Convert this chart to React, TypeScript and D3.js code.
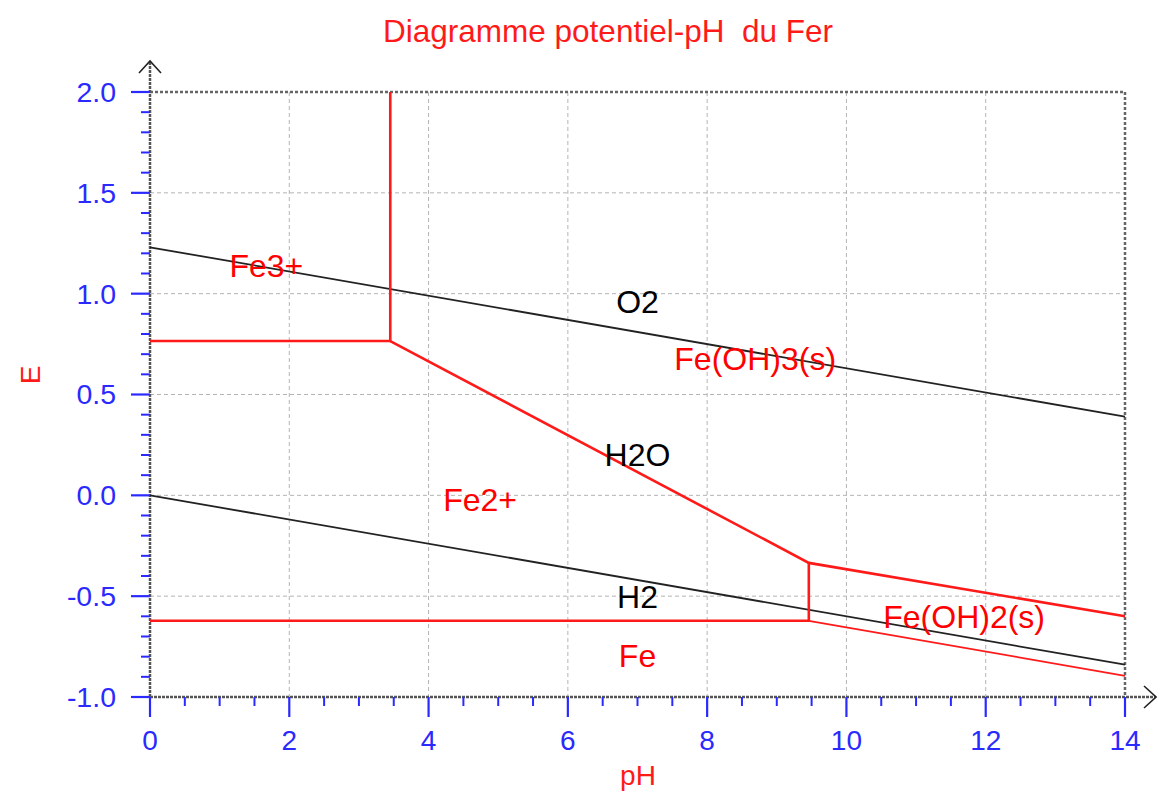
import React, { useEffect, useRef } from 'react'
import * as d3 from 'd3'

// boundary lines, [pH, E]
const o2Line = [[0, 1.23], [14, 0.39]]
const h2Line = [[0, 0], [14, -0.84]]
const fe3Fe2 = [[0, 0.765], [3.45, 0.765], [3.45, 2.0]]
const feOH3Fe2 = [[3.45, 0.765], [9.46, -0.335], [14, -0.6]]
const fe2Fe = [[0, -0.622], [9.46, -0.622], [9.46, -0.335]]
const feOH2Fe = [[9.46, -0.622], [14, -0.895]]

const labelNames = ['Fe3+', 'O2', 'Fe(OH)3(s)', 'H2O', 'Fe2+', 'H2', 'Fe', 'Fe(OH)2(s)']
const labelPH = [1.67, 7.0, 8.69, 7.0, 4.74, 7.0, 7.0, 11.69]
const labelE = [1.14, 0.96, 0.676, 0.2, -0.023, -0.504, -0.797, -0.603]
const labelColors = ['red', 'black', 'red', 'black', 'red', 'black', 'red', 'red']

const xTicks = [0, 2, 4, 6, 8, 10, 12, 14]
const yTicks = [-1.0, -0.5, 0.0, 0.5, 1.0, 1.5, 2.0]

const FONT = 'Arial, "Liberation Sans", sans-serif'

export default function App () {
  const ref = useRef(null)

  useEffect(() => {
    const svg = d3.select(ref.current)
    svg.selectAll('*').remove()

    const left = 150
    const right = 1125
    const top = 92
    const bottom = 697
    const x = d3.scaleLinear().domain([0, 14]).range([left, right])
    const y = d3.scaleLinear().domain([-1, 2]).range([bottom, top])

    // grid
    const grid = svg.append('g')
    grid.selectAll('.gx').data(xTicks.slice(1, -1)).enter().append('line')
      .attr('x1', d => x(d)).attr('x2', d => x(d))
      .attr('y1', top).attr('y2', bottom)
      .attr('stroke', '#b4b4b4').attr('stroke-dasharray', '4,3')
    grid.selectAll('.gy').data(yTicks.slice(1, -1)).enter().append('line')
      .attr('x1', left).attr('x2', right)
      .attr('y1', d => y(d)).attr('y2', d => y(d))
      .attr('stroke', '#b4b4b4').attr('stroke-dasharray', '4,3')

    // frame top / right
    svg.append('path')
      .attr('d', `M${left},${top}H${right}V${bottom}`)
      .attr('fill', 'none').attr('stroke', '#666').attr('stroke-width', 2.5)
      .attr('stroke-dasharray', '3,2')

    // axes lines with arrows
    svg.append('line').attr('x1', left).attr('x2', left).attr('y1', bottom).attr('y2', 62)
      .attr('stroke', '#555').attr('stroke-width', 2.5).attr('stroke-dasharray', '3,1')
    svg.append('line').attr('x1', left).attr('x2', 1155).attr('y1', bottom).attr('y2', bottom)
      .attr('stroke', '#555').attr('stroke-width', 2.5).attr('stroke-dasharray', '3,1')
    svg.append('path').attr('d', `M${left - 11},73L${left},61L${left + 11},73`)
      .attr('fill', 'none').attr('stroke', '#222').attr('stroke-width', 1.6)
    svg.append('path').attr('d', `M1144,686L1156,${bottom}L1144,708`)
      .attr('fill', 'none').attr('stroke', '#222').attr('stroke-width', 1.6)

    // ticks
    const blue = '#2a2aff'
    const minorX = d3.range(0, 14.01, 0.5).filter(v => v % 2 !== 0)
    const minorY = d3.range(-1, 2.001, 0.1).map(v => Math.round(v * 10) / 10)
      .filter(v => Math.abs(v * 2 - Math.round(v * 2)) > 1e-6)
    svg.append('g').selectAll('line').data(minorX).enter().append('line')
      .attr('x1', d => x(d)).attr('x2', d => x(d))
      .attr('y1', bottom).attr('y2', bottom + 9)
      .attr('stroke', blue).attr('stroke-width', 2)
    svg.append('g').selectAll('line').data(xTicks).enter().append('line')
      .attr('x1', d => x(d)).attr('x2', d => x(d))
      .attr('y1', bottom).attr('y2', bottom + 20)
      .attr('stroke', blue).attr('stroke-width', 2.2)
    svg.append('g').selectAll('line').data(minorY).enter().append('line')
      .attr('x1', left - 9).attr('x2', left)
      .attr('y1', d => y(d)).attr('y2', d => y(d))
      .attr('stroke', blue).attr('stroke-width', 2)
    svg.append('g').selectAll('line').data(yTicks).enter().append('line')
      .attr('x1', left - 19).attr('x2', left)
      .attr('y1', d => y(d)).attr('y2', d => y(d))
      .attr('stroke', blue).attr('stroke-width', 2.2)

    svg.append('g').selectAll('text').data(xTicks).enter().append('text')
      .attr('x', d => x(d)).attr('y', bottom + 53)
      .attr('text-anchor', 'middle')
      .attr('font-family', FONT).attr('font-size', 28).attr('fill', blue)
      .text(d => String(d))
    svg.append('g').selectAll('text').data(yTicks).enter().append('text')
      .attr('x', 116).attr('y', d => y(d)).attr('dy', '0.35em')
      .attr('text-anchor', 'end')
      .attr('font-family', FONT).attr('font-size', 28.5).attr('fill', blue)
      .text(d => d.toFixed(1))

    // boundary lines
    const line = d3.line().x(d => x(d[0])).y(d => y(d[1]))
    const draw = (data, color, w) => svg.append('path').datum(data)
      .attr('d', line).attr('fill', 'none').attr('stroke', color).attr('stroke-width', w)
    draw(o2Line, '#222', 1.8)
    draw(h2Line, '#222', 1.8)
    draw(fe3Fe2, '#ff1a1a', 2.6)
    draw(feOH3Fe2, '#ff1a1a', 2.6)
    draw(fe2Fe, '#ff1a1a', 2.6)
    draw(feOH2Fe, '#ff1a1a', 1.8)

    // region labels
    svg.append('g').selectAll('text').data(labelNames).enter().append('text')
      .attr('x', (d, i) => x(labelPH[i])).attr('y', (d, i) => y(labelE[i]))
      .attr('dy', '0.35em').attr('text-anchor', 'middle')
      .attr('font-family', FONT).attr('font-size', 32)
      .attr('fill', (d, i) => labelColors[i])
      .text(d => d)

    // titles
    svg.append('text').attr('x', 608).attr('y', 42).attr('text-anchor', 'middle')
      .attr('font-family', FONT).attr('font-size', 31.5).attr('fill', '#ff1a1a')
      .attr('xml:space', 'preserve')
      .text('Diagramme potentiel-pH  du Fer')
    svg.append('text').attr('x', 638).attr('y', 785).attr('text-anchor', 'middle')
      .attr('font-family', FONT).attr('font-size', 28).attr('fill', '#ff1a1a')
      .text('pH')
    svg.append('text').attr('x', 30).attr('y', 375).attr('text-anchor', 'middle')
      .attr('dy', '0.35em')
      .attr('transform', 'rotate(-90,30,375)')
      .attr('font-family', FONT).attr('font-size', 28).attr('fill', '#ff1a1a')
      .text('E')
  }, [])

  return (
    <svg ref={ref} width={1157} height={792}
      style={{ position: 'absolute', left: 0, top: 0, background: 'white' }} />
  )
}
